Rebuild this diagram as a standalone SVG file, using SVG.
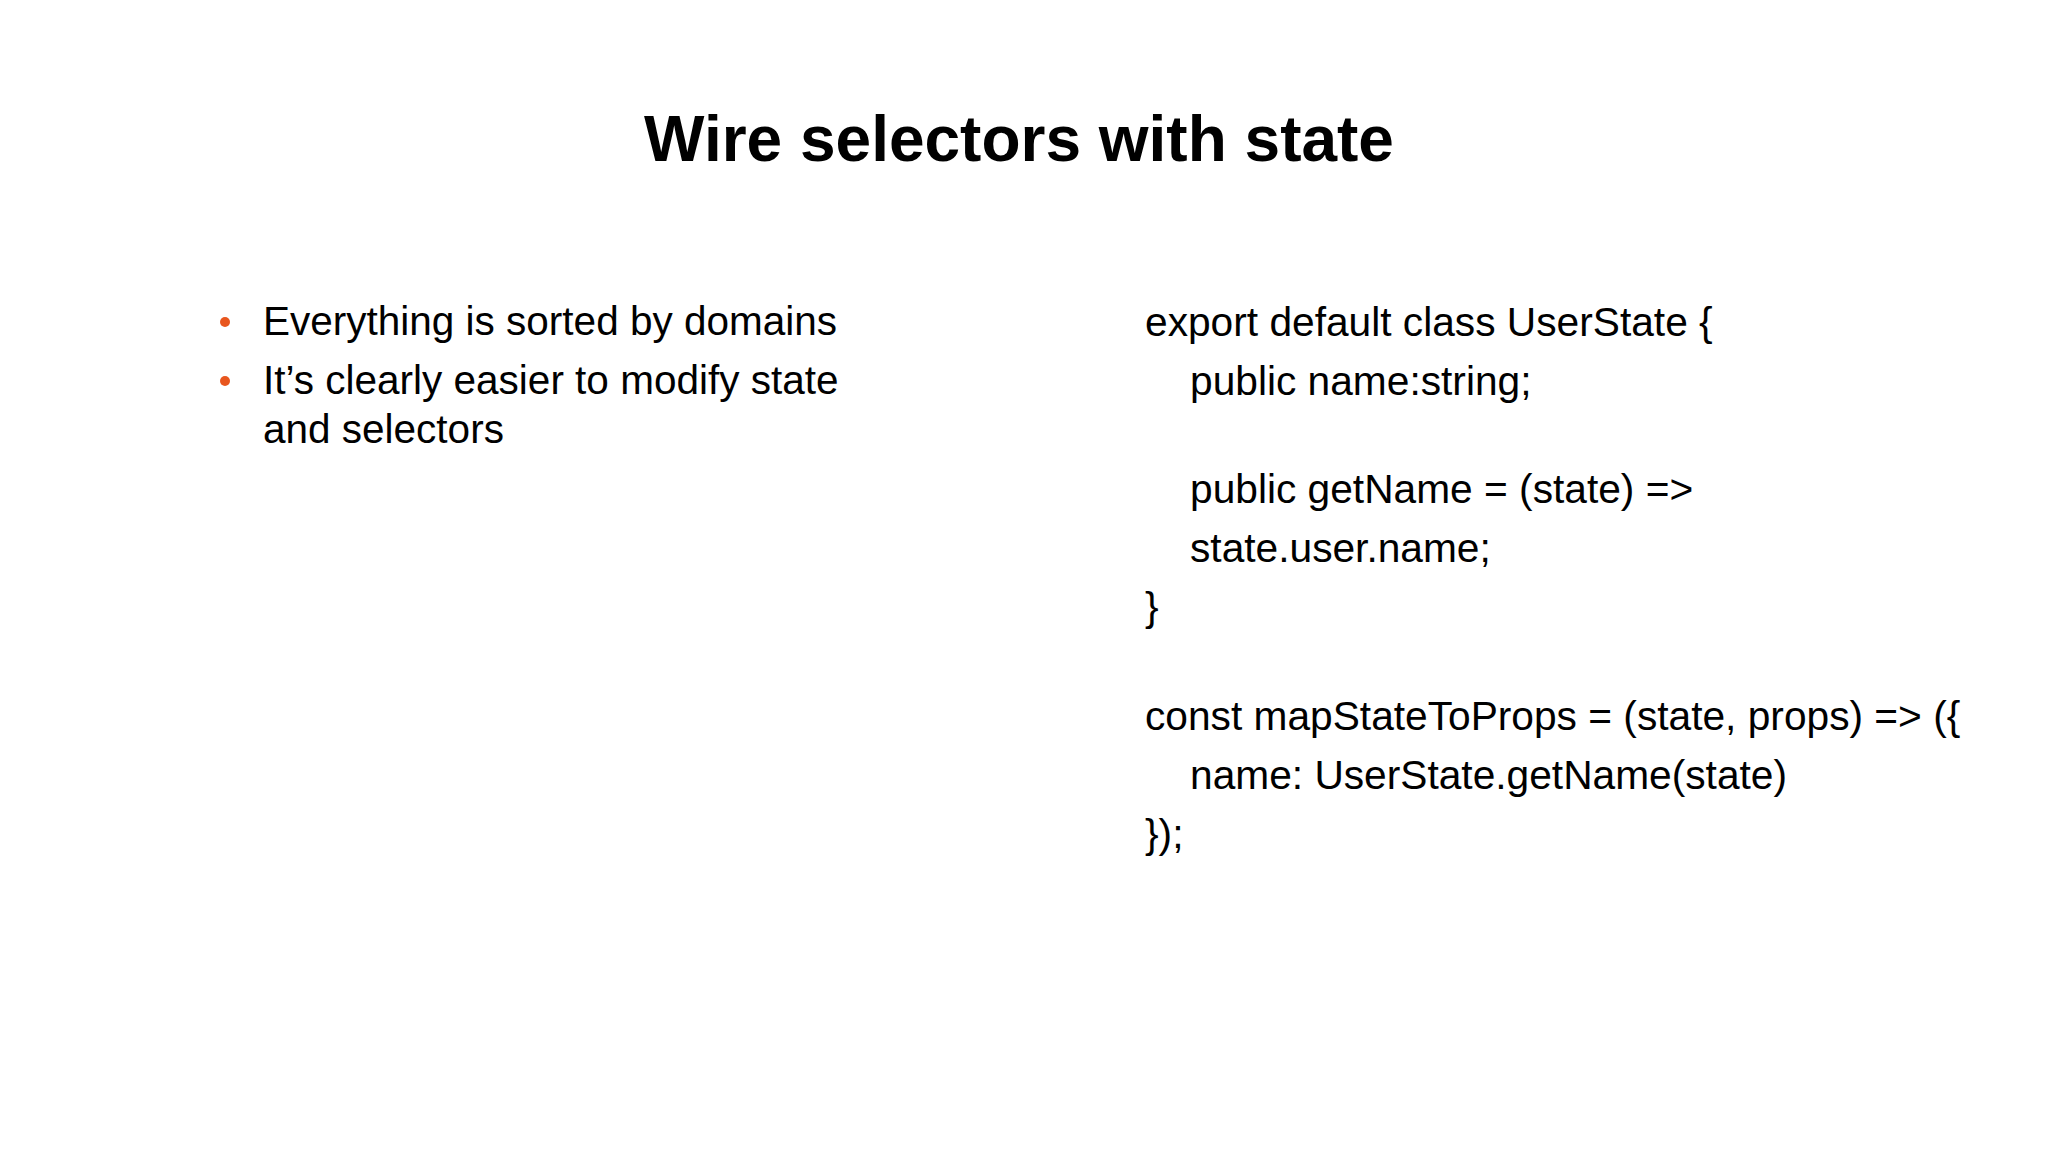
<svg xmlns="http://www.w3.org/2000/svg" width="2048" height="1152" viewBox="0 0 2048 1152">
<style>
.t{font-family:"Liberation Sans",Arial,sans-serif;fill:#000}
.b{font-size:40.5px}
.c{font-size:40.7px}
</style>
<rect width="2048" height="1152" fill="#fff"/>
<g id="title"><text class="t" x="1019" y="161" text-anchor="middle" font-size="64" font-weight="bold">Wire selectors with state</text></g>
<g id="bullets">
<circle cx="225" cy="322" r="5" fill="#E8561E"/>
<circle cx="225" cy="381" r="5" fill="#E8561E"/>
<text class="t b" x="263" y="335">Everything is sorted by domains</text>
<text class="t b" x="263" y="394">It’s clearly easier to modify state</text>
<text class="t b" x="263" y="443">and selectors</text>
</g>
<g id="code">
<text class="t c" x="1145" y="336">export default class UserState {</text>
<text class="t c" x="1190" y="395">public name:string;</text>
<text class="t c" x="1190" y="503">public getName = (state) =&gt;</text>
<text class="t c" x="1190" y="562">state.user.name;</text>
<text class="t c" x="1145" y="621">}</text>
<text class="t c" x="1145" y="730">const mapStateToProps = (state, props) =&gt; ({</text>
<text class="t c" x="1190" y="789">name: UserState.getName(state)</text>
<text class="t c" x="1145" y="848">});</text>
</g>
</svg>
